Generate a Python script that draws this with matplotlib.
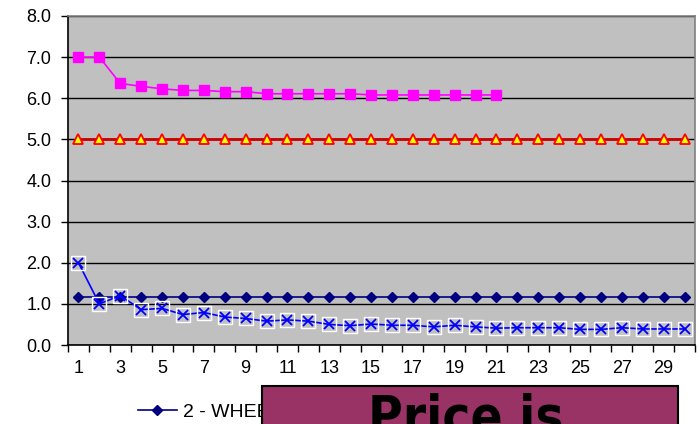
import matplotlib
matplotlib.use("Agg")
import matplotlib.pyplot as plt
from matplotlib.patches import Rectangle
from matplotlib.lines import Line2D
from matplotlib import font_manager
import numpy as np

plt.rcParams['font.family'] = ['Liberation Sans', 'DejaVu Sans']

periods = list(range(1, 31))
tick_labels = [str(i) for i in range(1, 30, 2)]

magenta_vals = [7.0, 7.0, 6.36, 6.29, 6.23, 6.19, 6.19, 6.16, 6.16, 6.11,
                6.11, 6.11, 6.11, 6.11, 6.08, 6.08, 6.08, 6.08, 6.08, 6.08, 6.08]
red_vals = [5.0] * 30
navy_vals = [1.17] * 30
blue_vals = [2.0, 1.0, 1.2, 0.86, 0.89, 0.74, 0.79, 0.68, 0.645, 0.58,
             0.61, 0.58, 0.50, 0.47, 0.51, 0.48, 0.48, 0.44, 0.48, 0.44,
             0.41, 0.42, 0.42, 0.42, 0.38, 0.38, 0.42, 0.39, 0.39, 0.39]
legend_label = "2 - WHEELER"
box_text = "Price is"

W, H = 697, 424
fig = plt.figure(figsize=(W / 100, H / 100), dpi=100)
ax = fig.add_axes([68 / W, 1 - 345 / H, (695 - 68) / W, (345 - 16) / H])
ax.set_facecolor('#C0C0C0')

ax.set_xlim(0.5, 30.5)
ax.set_ylim(0, 8)
ax.set_yticks(np.arange(0, 8.01, 1.0))
ax.set_yticklabels([f"{v:.1f}" for v in np.arange(0, 8.01, 1.0)], fontsize=13)
ax.grid(axis='y', color='black', linewidth=1.0, zorder=1)
ax.set_axisbelow(True)

ax.set_xticks(range(1, 30, 2))
ax.set_xticklabels(tick_labels, fontsize=13)
ax.set_xticks(np.arange(0.5, 30.6, 1.0), minor=True)
ax.tick_params(axis='x', which='major', length=0, pad=10.5)
ax.tick_params(axis='x', which='minor', length=5, width=1, direction='out', color='black')
ax.tick_params(axis='y', length=5, width=1, direction='out', pad=7)

for s in ['top', 'right']:
    ax.spines[s].set_color('#808080')
    ax.spines[s].set_linewidth(1.2)
for s in ['left', 'bottom']:
    ax.spines[s].set_color('black')
    ax.spines[s].set_linewidth(1.2)

x_m = periods[:len(magenta_vals)]
ax.plot(x_m, magenta_vals, color='#FF00FF', linewidth=1.2, marker='s', markersize=6.5,
        markerfacecolor='#FF00FF', markeredgecolor='#FF00FF', zorder=3)
ax.plot(periods, red_vals, color='#CC0000', linewidth=2.0, marker='^', markersize=7,
        markerfacecolor='#FFFF00', markeredgecolor='#FF0000', markeredgewidth=1.3, zorder=3)
ax.plot(periods, navy_vals, color='#000080', linewidth=1.2, marker='D', markersize=5,
        markerfacecolor='#000080', markeredgecolor='#000080', zorder=3)
ax.plot(periods, blue_vals, color='#0000FF', linewidth=1.2, zorder=3)
ax.plot(periods, blue_vals, linestyle='none', marker='s', markersize=10,
        markerfacecolor='none', markeredgecolor='white', markeredgewidth=1.0, zorder=4)
ax.plot(periods, blue_vals, linestyle='none', marker='x', markersize=7,
        markeredgecolor='#0000FF', markeredgewidth=1.3, zorder=5)

# legend entry (partially hidden by the box)
handle = Line2D([0], [0], color='#000080', linewidth=1.2, marker='D', markersize=5,
                markerfacecolor='#000080')
fig.legend(handles=[handle], labels=[legend_label], loc='center left',
           bbox_to_anchor=(132 / W, 1 - 412 / H), frameon=False, fontsize=14,
           handlelength=2.0, handletextpad=0.3, borderaxespad=0, borderpad=0.3)

# overlay box
box = Rectangle((262 / W, 1 - 440 / H), (678 - 262) / W, (440 - 386) / H,
                transform=fig.transFigure, facecolor='#993366', edgecolor='black',
                linewidth=1.5, zorder=10)
fig.patches.append(box)
fp = font_manager.FontProperties(family='DejaVu Sans', weight='bold', stretch='condensed',
                                 size=38)
fig.text(368 / W, 1 - 434 / H, box_text, ha='left', va='baseline',
         fontproperties=fp, color='black', zorder=11)

fig.savefig('out.png', dpi=100)
